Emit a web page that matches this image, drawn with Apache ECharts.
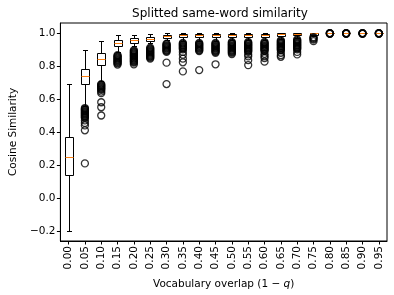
<!DOCTYPE html>
<html>
<head>
<meta charset="utf-8">
<script src="https://cdn.jsdelivr.net/npm/echarts@6/dist/echarts.min.js"></script>
<style>
html,body{margin:0;padding:0;background:#fff;}
#chart{width:394px;height:295px;}
</style>
</head>
<body>
<div id="chart"></div>
<script>
const categories = ['0.00','0.05','0.10','0.15','0.20','0.25','0.30','0.35','0.40','0.45','0.50','0.55','0.60','0.65','0.70','0.75','0.80','0.85','0.90','0.95'];
const whiskerLow  = [-0.20, 0.56, 0.71, 0.885, 0.92, 0.94, 0.955, 0.95, 0.952, 0.952, 0.955, 0.955, 0.957, 0.965, 0.968, 0.98, 1.0, 1.0, 1.0, 1.0];
const q1          = [0.14, 0.69, 0.805, 0.922, 0.94, 0.953, 0.97, 0.975, 0.976, 0.976, 0.977, 0.977, 0.978, 0.984, 0.985, 0.99, 1.0, 1.0, 1.0, 1.0];
const median      = [0.25, 0.74, 0.845, 0.94, 0.956, 0.966, 0.979, 0.985, 0.986, 0.986, 0.987, 0.987, 0.988, 0.994, 0.995, 0.998, 1.0, 1.0, 1.0, 1.0];
const q3          = [0.37, 0.78, 0.88, 0.955, 0.97, 0.977, 0.988, 0.993, 0.994, 0.994, 0.995, 0.995, 0.996, 0.999, 0.999, 1.0, 1.0, 1.0, 1.0, 1.0];
const whiskerHigh = [0.69, 0.895, 0.95, 0.985, 0.99, 0.995, 0.999, 1.0, 1.0, 1.0, 1.0, 1.0, 1.0, 1.0, 1.0, 1.0, 1.0, 1.0, 1.0, 1.0];
const outliers = [
  [],
  [0.545,0.54,0.535,0.53,0.525,0.52,0.515,0.51,0.505,0.50,0.495,0.49,0.485,0.47,0.455,0.44,0.41,0.21],
  [0.69,0.685,0.68,0.675,0.67,0.665,0.66,0.655,0.645,0.635,0.58,0.55,0.50],
  [0.865,0.86,0.855,0.85,0.845,0.84,0.835,0.83,0.825,0.82,0.815,0.808],
  [0.895,0.89,0.885,0.88,0.875,0.87,0.865,0.86,0.855,0.85,0.845,0.84,0.835,0.83,0.825,0.82,0.81],
  [0.91,0.905,0.90,0.895,0.89,0.885,0.88,0.875,0.87,0.865,0.86,0.855,0.85,0.845],
  [0.935,0.93,0.925,0.92,0.915,0.91,0.905,0.90,0.895,0.89,0.885,0.82,0.69],
  [0.94,0.935,0.93,0.925,0.92,0.915,0.91,0.905,0.90,0.885,0.868,0.844,0.822,0.767],
  [0.94,0.935,0.93,0.925,0.92,0.915,0.91,0.905,0.90,0.895,0.89,0.775],
  [0.94,0.935,0.93,0.925,0.92,0.915,0.91,0.905,0.90,0.895,0.89,0.885,0.88,0.81],
  [0.945,0.94,0.935,0.93,0.925,0.92,0.915,0.91,0.905,0.90,0.895,0.89,0.885,0.88,0.872],
  [0.945,0.94,0.935,0.93,0.925,0.92,0.915,0.91,0.905,0.90,0.895,0.89,0.885,0.87,0.858,0.835,0.805],
  [0.945,0.94,0.935,0.93,0.925,0.92,0.915,0.91,0.905,0.90,0.895,0.89,0.873,0.86,0.848,0.826],
  [0.955,0.95,0.945,0.94,0.935,0.93,0.925,0.92,0.915,0.91,0.905,0.90,0.895,0.88,0.865,0.855],
  [0.96,0.955,0.95,0.945,0.94,0.935,0.93,0.925,0.92,0.915,0.91,0.905,0.90,0.885,0.87],
  [0.975,0.97,0.965,0.96,0.95],
  [0.999,0.998,0.997,0.996,0.995],
  [0.999,0.998,0.997,0.996,0.995],
  [0.999,0.998,0.997,0.996,0.995],
  [0.999,0.998,0.997,0.996,0.995]
];
const yTicks = [-0.2, 0.0, 0.2, 0.4, 0.6, 0.8, 1.0];

const boxData = categories.map((c, i) => [i, whiskerLow[i], q1[i], median[i], q3[i], whiskerHigh[i]]);
const flierData = [];
outliers.forEach((arr, i) => arr.forEach(v => flierData.push([i, v])));

function renderBox(params, api) {
  const i = api.value(0);
  const band = api.size([1, 0])[0];
  const bw = band * 0.5;
  const cw = bw * 0.5;
  const cx = Math.round(api.coord([i, 0])[0]) + 0.5;
  const yy = v => Math.round(api.coord([i, v])[1]) + 0.5;
  const yLo = yy(api.value(1)), yQ1 = yy(api.value(2)), yMed = yy(api.value(3)), yQ3 = yy(api.value(4)), yHi = yy(api.value(5));
  const bl = Math.round(cx - bw / 2) + 0.5, br = Math.round(cx + bw / 2) - 0.5;
  const cl = Math.round(cx - cw / 2), cr = Math.round(cx + cw / 2);
  const ls = {stroke: '#000', lineWidth: 1, fill: null};
  return {
    type: 'group',
    children: [
      {type: 'line', shape: {x1: cx, y1: yQ3, x2: cx, y2: yHi}, style: ls},
      {type: 'line', shape: {x1: cx, y1: yQ1, x2: cx, y2: yLo}, style: ls},
      {type: 'line', shape: {x1: cl, y1: yHi, x2: cr, y2: yHi}, style: ls},
      {type: 'line', shape: {x1: cl, y1: yLo, x2: cr, y2: yLo}, style: ls},
      {type: 'rect', shape: {x: bl, y: yQ3, width: br - bl, height: yQ1 - yQ3}, style: {stroke: '#000', lineWidth: 1, fill: 'none'}},
      {type: 'line', shape: {x1: bl, y1: yMed, x2: br, y2: yMed}, style: {stroke: '#ff7f0e', lineWidth: 1}}
    ]
  };
}

const chart = echarts.init(document.getElementById('chart'), null, {renderer: 'canvas'});
const FONT = 'DejaVu Sans';
chart.setOption({
  animation: false,
  backgroundColor: '#fff',
  textStyle: {fontFamily: FONT, color: '#000'},
  title: {
    text: 'Splitted same-word similarity',
    left: 215, top: 3, textAlign: 'center',
    textStyle: {fontFamily: FONT, fontSize: 12, fontWeight: 'normal', color: '#000'}
  },
  grid: {left: 53, right: 7, top: 23, bottom: 54, show: true, borderColor: '#000', borderWidth: 1, backgroundColor: 'transparent'},
  xAxis: {
    type: 'category',
    data: categories,
    boundaryGap: true,
    name: '{a|Vocabulary overlap (1 \u2212 }{b|q}{a|)}',
    nameLocation: 'middle',
    nameGap: 38,
    nameTextStyle: {
      fontFamily: FONT, fontSize: 10.5, color: '#000',
      rich: {
        a: {fontFamily: FONT, fontSize: 10.5, color: '#000'},
        b: {fontFamily: FONT, fontSize: 10.5, color: '#000', fontStyle: 'italic'}
      }
    },
    axisLine: {show: true, onZero: false, lineStyle: {color: '#000', width: 1}},
    axisTick: {show: true, alignWithLabel: true, length: 3.5, lineStyle: {color: '#000'}},
    axisLabel: {rotate: 90, margin: 5, fontFamily: FONT, fontSize: 10.5, color: '#000', interval: 0},
    splitLine: {show: false}
  },
  yAxis: {
    type: 'value',
    min: -0.26, max: 1.06,
    name: 'Cosine Similarity',
    nameLocation: 'middle',
    nameRotate: 90,
    nameGap: 40,
    nameTextStyle: {fontFamily: FONT, fontSize: 10.5, color: '#000'},
    axisLine: {show: true, onZero: false, lineStyle: {color: '#000', width: 1}},
    axisTick: {show: true, length: 3.5, lineStyle: {color: '#000'}, customValues: yTicks},
    axisLabel: {
      margin: 5, fontFamily: FONT, fontSize: 10.5, color: '#000',
      customValues: yTicks,
      formatter: v => (v < -1e-9 ? '\u2212' : '') + Math.abs(v).toFixed(1)
    },
    splitLine: {show: false}
  },
  series: [
    {
      type: 'custom',
      renderItem: renderBox,
      data: boxData,
      encode: {x: 0, y: [1, 2, 3, 4, 5]},
      z: 2
    },
    {
      type: 'scatter',
      data: flierData,
      symbol: 'circle',
      symbolSize: 7,
      itemStyle: {color: 'rgba(0,0,0,0)', borderColor: '#000', borderWidth: 1.3},
      emphasis: {disabled: true},
      z: 3
    }
  ]
});
</script>
</body>
</html>
